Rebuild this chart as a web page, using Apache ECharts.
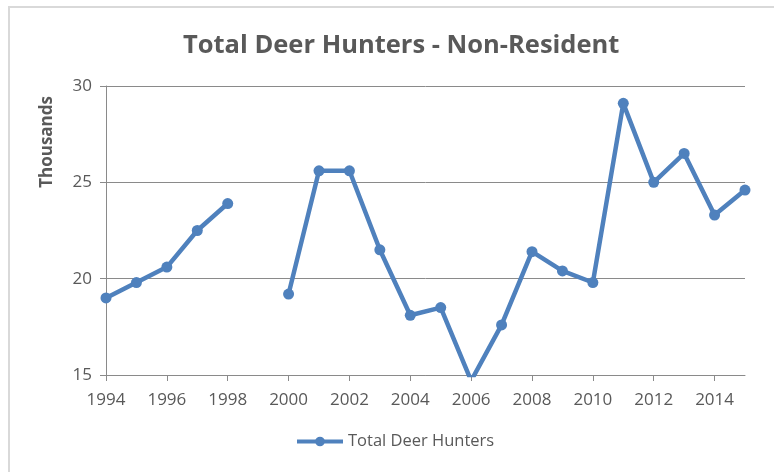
<!DOCTYPE html>
<html>
<head>
<meta charset="utf-8">
<script src="https://cdn.jsdelivr.net/npm/echarts@6/dist/echarts.min.js"></script>
<style>
  html, body { margin: 0; padding: 0; background: #fff; }
  .wrap { position: relative; width: 774px; height: 472px; overflow: hidden; }
  .frame { position: absolute; left: 8px; top: 6px; width: 800px; height: 500px;
           border-top: 2px solid #d9d9d9; border-left: 2px solid #d9d9d9; box-sizing: border-box; }
  #main { position: absolute; left: 0; top: 0; width: 774px; height: 472px; }
</style>
</head>
<body>
<div class="wrap">
  <div class="frame"></div>
  <div id="main"></div>
</div>
<script>
// years on the x axis
var years = ['1994', '1995', '1996', '1997', '1998', '1999', '2000', '2001', '2002', '2003', '2004',
  '2005', '2006', '2007', '2008', '2009', '2010', '2011', '2012', '2013', '2014', '2015'];
// non-resident deer hunters, thousands (1999 missing)
var hunters = [19.0, 19.8, 20.6, 22.5, 23.9, null, 19.2, 25.6, 25.6, 21.5, 18.1,
  18.5, 14.7, 17.6, 21.4, 20.4, 19.8, 29.1, 25.0, 26.5, 23.3, 24.6];
var yTicks = [15, 20, 25, 30];

var grey = '#595959';
var lineGrey = '#8a8a8a';
var blue = '#4f81bd';
var font = '"Open Sans", sans-serif';

var myChart = echarts.init(document.getElementById('main'));
myChart.setOption({
  backgroundColor: 'transparent',
  animation: false,
  title: {
    text: 'Total Deer Hunters - Non-Resident',
    left: 178,
    top: 28,
    textStyle: { color: grey, fontFamily: font, fontWeight: 'bold', fontSize: 25.5 }
  },
  graphic: [{
    type: 'text',
    left: 39,
    top: 96,
    rotation: Math.PI / 2,
    style: { text: 'Thousands', fill: grey, font: 'bold 17px "Open Sans", sans-serif' }
  }],
  legend: {
    bottom: 17,
    left: 290,
    itemWidth: 46,
    itemHeight: 12,
    itemGap: 2,
    lineStyle: { width: 4 },
    textStyle: { color: grey, fontFamily: font, fontSize: 16.5 },
    data: ['Total Deer Hunters']
  },
  grid: { left: 106, right: 29, top: 86, bottom: 97 },
  xAxis: {
    type: 'category',
    boundaryGap: false,
    data: years,
    axisLine: { lineStyle: { color: lineGrey, width: 1 } },
    axisTick: { show: true, interval: 1, length: 6, lineStyle: { color: lineGrey } },
    axisLabel: { interval: 1, color: grey, fontFamily: font, fontSize: 17, margin: 17 }
  },
  yAxis: {
    type: 'value',
    min: yTicks[0],
    max: yTicks[yTicks.length - 1],
    interval: 5,
    axisLine: { show: true, lineStyle: { color: lineGrey, width: 1 } },
    axisTick: { show: true, length: 6, lineStyle: { color: lineGrey } },
    axisLabel: { color: grey, fontFamily: font, fontSize: 17, margin: 14 },
    splitLine: { lineStyle: { color: lineGrey, width: 1 } }
  },
  series: [{
    name: 'Total Deer Hunters',
    type: 'line',
    data: hunters,
    clip: true,
    connectNulls: false,
    symbol: 'circle',
    symbolSize: 11,
    showSymbol: true,
    lineStyle: { color: blue, width: 4.5 },
    itemStyle: { color: blue }
  }]
});
</script>
</body>
</html>
